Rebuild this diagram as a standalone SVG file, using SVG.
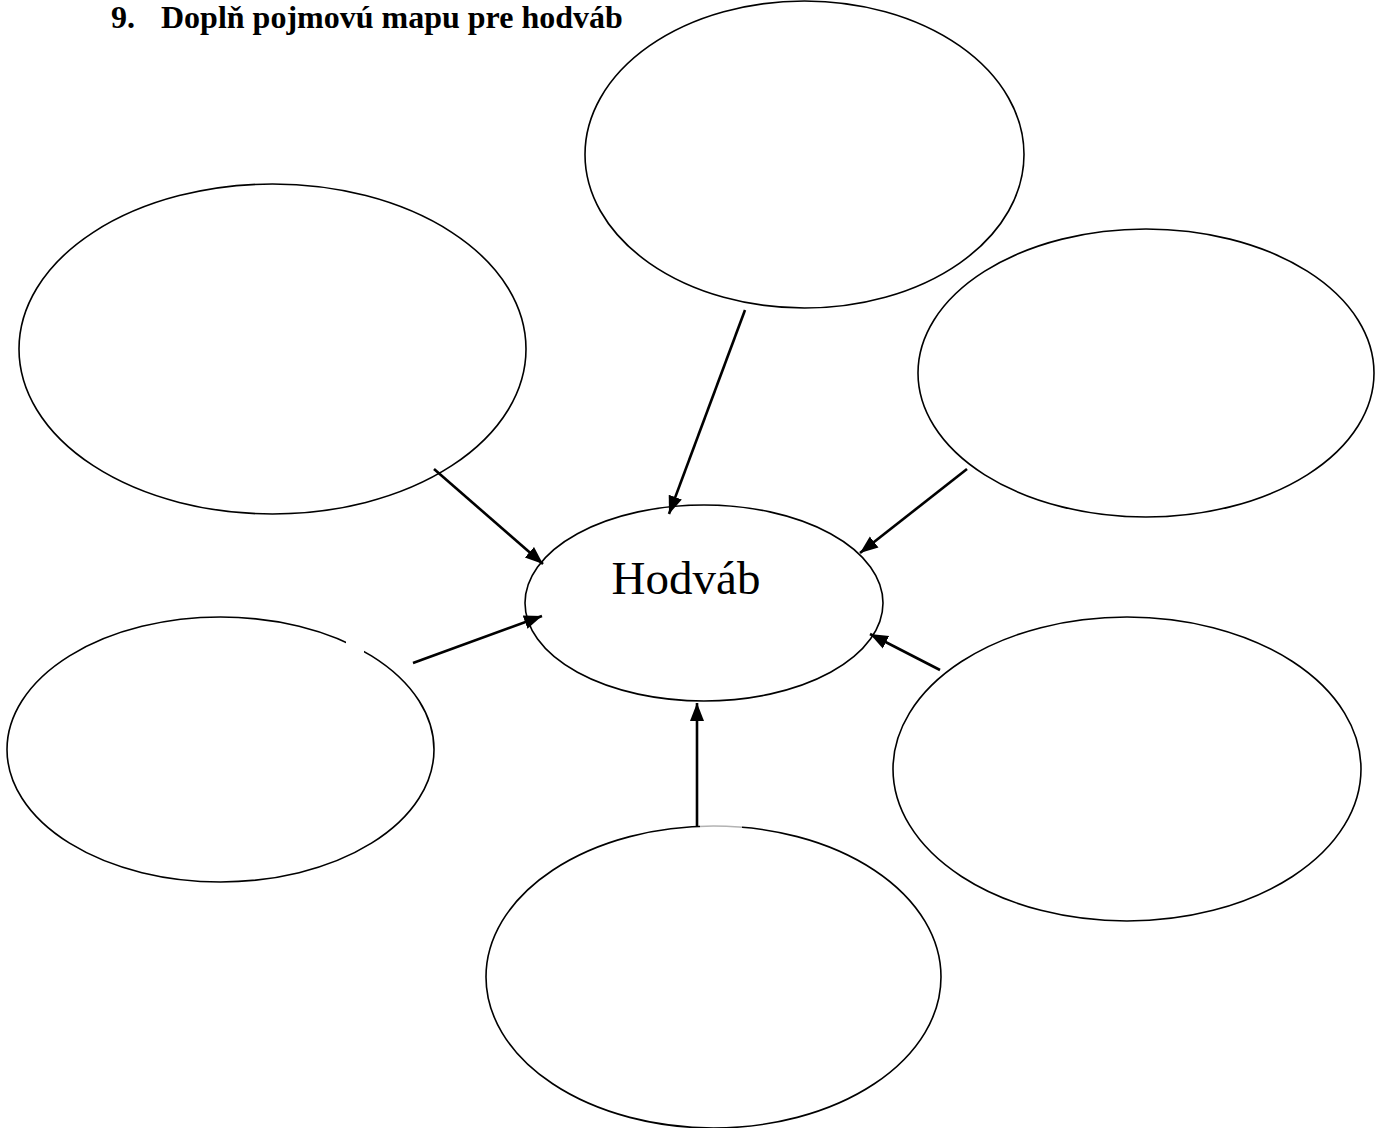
<svg xmlns="http://www.w3.org/2000/svg" width="1383" height="1128" viewBox="0 0 1383 1128">
<style>
.node{fill:none;stroke:#000;stroke-width:1.6}
.con{stroke:#000;stroke-width:2.6;fill:none;marker-end:url(#ah)}
.t{font-family:"Liberation Serif",serif;fill:#000}
.title{font-size:32px;font-weight:bold}
</style>
<defs>
<marker id="ah" markerUnits="userSpaceOnUse" markerWidth="20" markerHeight="20" viewBox="0 0 20 20" refX="18" refY="10" orient="auto">
<path d="M0,3 L18,10 L0,17 Z" fill="#000"/>
</marker>
</defs>
<rect width="1383" height="1128" fill="#fff"/>
<text class="t title" x="111" y="28">9.</text>
<text class="t title" x="161" y="28">Doplň pojmovú mapu pre hodváb</text>
<g id="n-top"><ellipse class="node" cx="804.5" cy="154.5" rx="219.5" ry="153.5"/></g>
<g id="n-lefttop"><ellipse class="node" cx="272.5" cy="349" rx="253.5" ry="165"/></g>
<g id="n-righttop"><ellipse class="node" cx="1146" cy="373" rx="228" ry="144"/></g>
<g id="n-center"><ellipse class="node" cx="704" cy="603" rx="179" ry="98"/><text class="t" x="686" y="594" font-size="47" text-anchor="middle">Hodváb</text></g>
<g id="n-leftbottom"><ellipse class="node" cx="220.5" cy="749.5" rx="213.5" ry="132.5"/><rect x="346" y="636" width="18" height="18" fill="#fff"/></g>
<g id="n-rightbottom"><ellipse class="node" cx="1127" cy="769" rx="234" ry="152"/></g>
<g id="n-bottom"><ellipse class="node" cx="713.5" cy="977" rx="227.5" ry="151"/><rect x="700" y="822" width="42" height="6" fill="#fff" opacity="0.7"/></g>
<g id="connectors">
<line class="con" x1="434" y1="469" x2="543" y2="564"/>
<line class="con" x1="745" y1="310" x2="669" y2="514"/>
<line class="con" x1="967" y1="469" x2="860" y2="553"/>
<line class="con" x1="413" y1="663" x2="542" y2="616"/>
<line class="con" x1="940" y1="670" x2="870" y2="634"/>
<line class="con" x1="697" y1="826" x2="697" y2="703"/>
</g>
</svg>
